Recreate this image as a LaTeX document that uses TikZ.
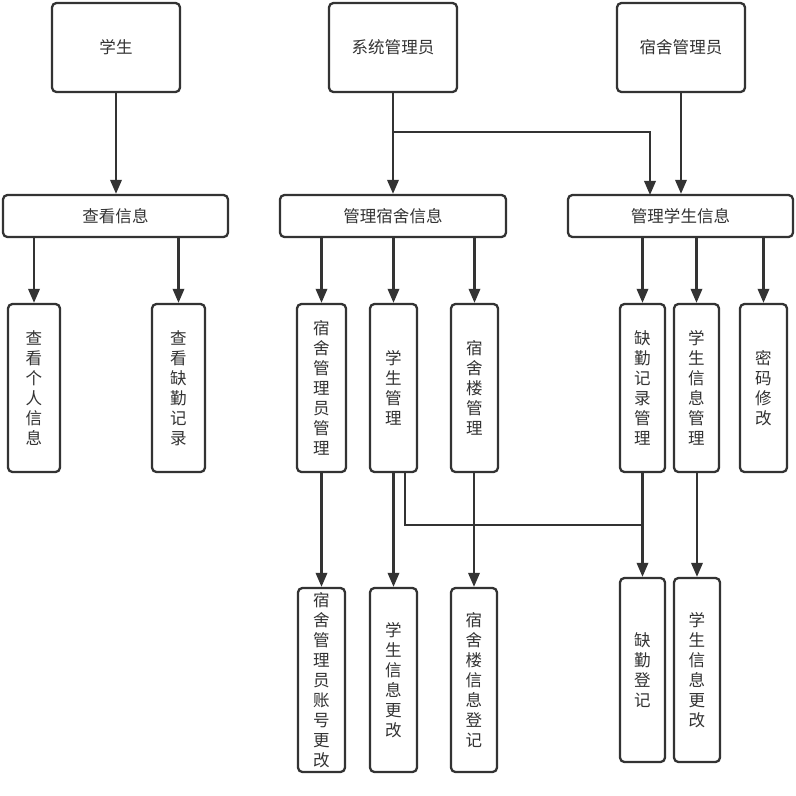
\documentclass[tikz,border=0pt]{standalone}
\usepackage{fontspec}
\usepackage{xcolor}
\usepackage{tikz}
\usetikzlibrary{arrows.meta}
\setmainfont{Noto Sans CJK SC}
\definecolor{ink}{HTML}{333333}
\def\px{0.02cm}
\tikzset{
  box/.style={draw=ink, line width=1.3pt, rounded corners=2.5pt, fill=white,
    inner sep=0pt, text=ink, font=\fontsize{9.4}{11.4}\selectfont, align=center},
  vbox/.style={box, minimum width=#1*\px},
  conn/.style={draw=ink, line width=1.3pt},
  arr/.style={conn, -{Triangle[length=8pt,width=6.5pt]}},
}

\begin{document}
\begin{tikzpicture}[x=\px, y=-\px]
  \useasboundingbox (0,0) rectangle (796,796);

  % roles
  \node[box, minimum width=128*\px, minimum height=89*\px] (stu) at (116,47.5) {学生};
  \node[box, minimum width=128*\px, minimum height=89*\px] (sysadm) at (393,47.5) {系统管理员};
  \node[box, minimum width=128*\px, minimum height=89*\px] (dormadm) at (681,47.5) {宿舍管理员};

  % functions
  \node[box, minimum width=225*\px, minimum height=42*\px] (view) at (115.5,216) {查看信息};
  \node[box, minimum width=226*\px, minimum height=42*\px] (mdorm) at (393,216) {管理宿舍信息};
  \node[box, minimum width=225*\px, minimum height=42*\px] (mstu) at (680.5,216) {管理学生信息};

  % sub functions
  \node[vbox=52, minimum height=168*\px] (vself) at (34,388) {查\\看\\个\\人\\信\\息};
  \node[vbox=53, minimum height=168*\px] (vabs) at (178.5,388) {查\\看\\缺\\勤\\记\\录};
  \node[vbox=49, minimum height=168*\px] (mdadm) at (321.5,388) {宿\\舍\\管\\理\\员\\管\\理};
  \node[vbox=47, minimum height=168*\px] (mstud) at (393.5,388) {学\\生\\管\\理};
  \node[vbox=47, minimum height=168*\px] (mbld) at (474.5,388) {宿\\舍\\楼\\管\\理};
  \node[vbox=45, minimum height=168*\px] (mabs) at (642.5,388) {缺\\勤\\记\\录\\管\\理};
  \node[vbox=45, minimum height=168*\px] (msinfo) at (696.5,388) {学\\生\\信\\息\\管\\理};
  \node[vbox=47, minimum height=168*\px] (pwd) at (763.5,388) {密\\码\\修\\改};

  % operations
  \node[vbox=47, minimum height=184*\px] (dadmacc) at (321.5,680) {宿\\舍\\管\\理\\员\\账\\号\\更\\改};
  \node[vbox=47, minimum height=184*\px] (sinfo) at (393.5,680) {学\\生\\信\\息\\更\\改};
  \node[vbox=46, minimum height=184*\px] (bldreg) at (474,680) {宿\\舍\\楼\\信\\息\\登\\记};
  \node[vbox=45, minimum height=184*\px] (absreg) at (642.5,670) {缺\\勤\\登\\记};
  \node[vbox=46, minimum height=184*\px] (sinfob) at (697,670) {学\\生\\信\\息\\更\\改};

  \coordinate (br) at (393,132);
  \coordinate (mstuin) at (650,195);
  \coordinate (jn) at (642,525);

  % role -> function
  \draw[arr] (stu.south) -- (stu.south |- view.north);
  \draw[arr] (sysadm.south) -- (sysadm.south |- mdorm.north);
  \draw[arr] (br) -| (mstuin);
  \draw[arr] (dormadm.south) -- (dormadm.south |- mstu.north);

  % function -> sub function
  \foreach \a/\b in {view/vself, view/vabs, mdorm/mdadm, mdorm/mstud, mdorm/mbld,
                     mstu/mabs, mstu/msinfo, mstu/pwd}
    \draw[arr] (\a.south -| \b.north) -- (\b.north);

  % sub function -> operation
  \foreach \a/\b in {mdadm/dadmacc, mstud/sinfo, mbld/bldreg, mabs/absreg, msinfo/sinfob}
    \draw[arr] (\a.south) -- (\a.south -| \b.north) -- (\b.north);
  \draw[conn] ([xshift=11.5*\px]mstud.south) |- (jn);
\end{tikzpicture}
\end{document}
